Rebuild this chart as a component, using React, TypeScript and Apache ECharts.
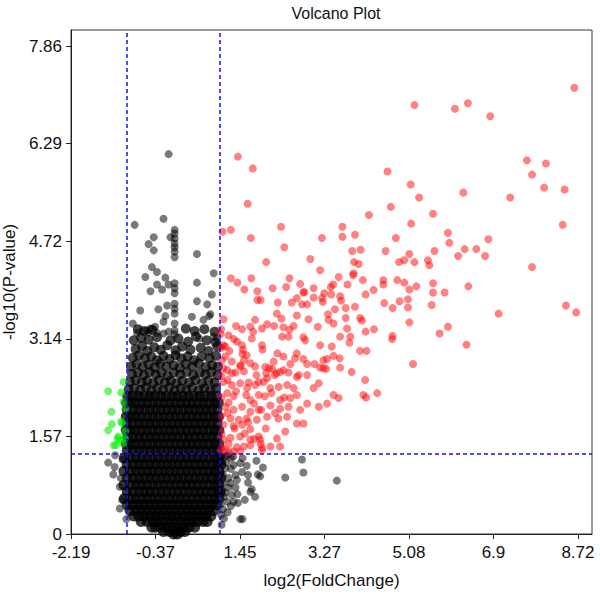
import React, { useEffect, useRef } from "react";
import * as echarts from "echarts";

const xTickValues = [-2.19, -0.372, 1.446, 3.264, 5.082, 6.9, 8.718];
const xTickLabels = ["-2.19", "-0.37", "1.45", "3.27", "5.08", "6.9", "8.72"];
const yTickValues = [0, 1.572, 3.144, 4.716, 6.288, 7.86];
const yTickLabels = ["0", "1.57", "3.14", "4.72", "6.29", "7.86"];
const foldChangeCutoffs = [-1, 1];
const pValueCutoff = 1.30103;

const upRegulated: [number, number][] = [
  [8.64,7.19],[5.2,6.91],[6.07,6.85],[6.35,6.94],[6.83,6.73],[1.4,6.08],[1.72,5.89],[4.62,5.84],[5.12,5.63],[5.3,5.42],
  [1.61,5.32],[4.69,5.27],[4.22,5.14],[5.6,5.16],[6.25,5.5],[7.26,5.42],[7.62,6.02],[8.03,5.97],[7.73,5.79],[7.99,5.58],
  [8.43,5.55],[8.39,4.98],[7.73,4.3],[8.46,3.68],[8.68,3.57],[7.01,3.55],[6.32,3.05],[5.92,3.34],[5.74,3.23],[5.17,2.74],
  [5.09,3.41],[6.36,3.99],[5.85,3.89],[5.6,4.04],[5.6,3.89],[5.57,3.69],[5.24,3.99],[5.09,3.94],[5.06,3.78],[5.06,3.65],
  [4.88,3.75],[4.98,4.05],[4.83,4.09],[4.53,4.09],[4.53,4.02],[4.55,3.72],[4.73,3.64],[4.73,3.19],[4.72,3.14],[4.32,3.93],
  [4.15,3.86],[4.09,4.09],[3.89,4.2],[3.88,4.17],[3.76,4.02],[3.57,4.14],[3.45,4.02],[3.4,3.98],[3.26,3.88],[3.03,3.96],
  [2.83,3.9],[2.74,4.03],[2.51,4.12],[2.44,3.98],[2.15,3.96],[1.82,3.91],[1.54,3.94],[1.39,4.05],[1.25,4.12],[1.69,4.12],
  [2.01,4.38],[2.4,4.62],[2.33,4.95],[1.68,4.77],[1.07,4.87],[1.25,4.9],[2.96,4.43],[3.17,4.25],[3.21,4.77],[3.65,4.95],
  [3.65,4.79],[3.92,4.82],[3.86,4.56],[4.04,4.58],[3.9,4.38],[4.0,4.35],[4.8,4.77],[4.58,4.56],[4.87,4.38],[4.98,4.41],
  [5.09,4.51],[5.2,4.38],[5.13,5.0],[5.63,4.56],[5.49,4.41],[5.52,4.33],[5.92,4.85],[5.95,4.69],[6.14,4.48],[6.28,4.59],
  [6.53,4.59],[6.72,4.48],[6.79,4.75],
  [1.82,3.77],[1.89,3.77],[2.26,3.73],[2.56,3.73],[2.67,3.8],[2.78,3.7],[2.89,3.7],[2.81,3.89],[3.03,3.81],[3.21,3.8],
  [3.23,3.74],[3.41,3.86],[3.6,3.83],[3.62,3.76],[3.49,3.62],[3.34,3.54],[3.72,3.64],[3.92,3.66],
  [2.24,3.55],[2.34,3.47],[2.67,3.52],[2.92,3.46],[3.12,3.34],[3.35,3.45],[3.46,3.39],[3.72,3.48],[3.75,3.31],[4.03,3.48],
  [4.07,3.44],[4.33,3.3],[4.15,3.26],[3.82,3.18],[3.8,3.08],[3.6,3.18],[3.42,3.02],[3.17,3.04],[2.85,3.12],[2.81,3.17],
  [2.6,3.35],[2.51,3.29],[2.38,3.33],[2.18,3.35],[2.03,3.38],[1.92,3.31],[1.77,3.45],[1.67,3.34],[1.49,3.3],[1.73,3.26],
  [1.09,3.46],[1.31,3.14],[1.49,3.04],[1.51,2.97],[1.92,3.04],[1.93,2.97],[2.35,3.18],[2.49,3.18],[2.67,2.91],[2.63,2.83],
  [2.38,2.86],[2.25,2.91],[2.17,2.78],[1.99,2.69],[2.14,2.66],[2.31,2.61],[2.49,2.6],[2.71,2.56],[2.89,2.74],[3.05,2.74],
  [3.24,2.8],[3.3,2.66],[3.46,2.87],[3.59,2.83],[3.6,2.68],[3.85,2.61],[4.03,2.95],[4.17,2.95],[3.17,2.68],[1.67,2.75],
  [1.53,2.8],[1.46,2.7],[1.17,2.64],[1.27,2.59],[1.8,2.56],[2.01,2.59],[2.23,2.59],[1.13,3.02],[1.06,2.8],
  [1.09,2.45],[1.27,2.4],[1.45,2.43],[1.63,2.44],[1.77,2.4],[1.95,2.45],[2.1,2.35],[2.28,2.37],[2.46,2.4],[2.6,2.35],
  [3.03,2.35],[3.14,2.43],[3.46,2.24],[3.57,2.19],[4.1,2.24],[4.16,2.2],[4.4,2.27],[4.14,2.48],
  [1.17,2.27],[1.31,2.22],[1.58,2.24],[1.67,2.16],[1.85,2.24],[1.98,2.22],[2.12,2.27],[2.31,2.16],[2.53,2.19],[2.67,2.24],
  [2.89,2.1],[3.14,2.05],[3.32,2.1],[1.13,2.05],[1.31,2.0],[1.49,2.05],[1.67,1.97],[1.85,2.0],[2.1,2.07],[2.31,2.02],
  [2.49,2.05],[2.74,2.0],[1.24,1.86],[1.42,1.84],[1.59,1.86],[1.81,1.84],[2.03,1.89],[2.27,1.86],[2.46,1.89],[2.67,1.78],
  [2.81,1.78],[1.09,1.76],[1.31,1.74],[1.49,1.76],[1.67,1.69],[1.85,1.57],[1.45,1.57],[1.24,1.55],[1.09,1.52],[1.67,1.52],
  [1.88,1.52],[2.1,1.41],[2.31,1.41],[1.92,1.39],[1.53,1.41],[1.13,1.35],[1.31,1.33],[1.45,1.33],[1.06,1.39],
  [1.13,2.86],[1.27,2.78],[1.09,2.67],[1.45,2.72],[1.59,2.88],[1.77,2.7],[1.53,2.62],[1.09,3.04],[1.03,3.22],[2.07,2.67],
  [2.03,2.51],[2.19,2.56],[2.38,2.64],[2.67,2.53],[2.89,2.56],[3.24,2.67],[2.81,2.82],[2.53,2.74],[3.32,2.82],
  [2.42,1.65],[2.24,1.54],[1.92,1.35],[1.75,1.53],[1.89,1.45],[1.67,1.43],[1.2,1.32],
  [1.04,3.3],[1.2,3.2],[1.36,3.35],[1.05,3.0],[1.22,2.95],[1.38,3.1],[1.04,2.55],[1.18,2.48],[1.35,2.6],[1.05,2.2],
  [1.2,2.12],[1.36,2.3],[1.04,1.9],[1.18,1.95],[1.33,1.7],[1.05,1.62],[1.2,1.45],[1.38,1.4],[1.04,1.36],[1.55,1.62],
  [1.62,1.8],[1.75,2.1],[1.6,2.35],[1.9,2.0],[1.5,2.9],[1.7,3.15],[1.85,2.45],[2.0,1.7],[2.2,1.95],[2.4,2.2]
];

const downRegulated: [number, number][] = [
  [-1.39,2.3],[-1.11,2.28],[-1.06,2.45],[-1.06,2.13],[-1.02,2.02],[-1.32,1.97],[-1.11,1.81],[-1.31,1.77],[-1.39,1.67],
  [-1.02,1.66],[-1.17,1.57],[-1.22,1.43],[-1.13,1.51],[-1.06,1.46],[-1.03,1.54],[-1.09,1.79],[-1.19,1.54],[-1.27,1.43]
];

const notSignificantSparse: [number, number][] = [
  [-0.09,6.12],[-0.82,4.98],[-0.2,5.08],[0.04,4.9],[0.04,4.84],[0.04,4.76],[0.04,4.68],[0.04,4.62],[0.04,4.55],[0.04,4.46],
  [-0.05,4.78],[-0.41,4.78],[-0.52,4.67],[-0.41,4.57],[0.52,4.51],[-0.45,4.3],[-0.59,4.14],[-0.34,4.22],[-0.16,4.13],[-0.34,4.02],
  [-0.48,3.91],[-0.23,3.94],[-0.09,4.02],[0.04,4.04],[0.04,3.96],[0.04,3.88],[0.52,4.05],[0.88,4.2],[0.84,3.86],[-0.7,3.6],
  [-0.31,3.62],[-0.12,3.68],[0.04,3.71],[0.04,3.63],[0.04,3.55],[-0.16,3.51],[-0.2,3.42],[0.52,3.75],[0.74,3.7],[0.81,3.54],
  [0.78,3.51],[0.41,3.5],[0.66,3.45],[-0.86,3.39],[-0.77,3.24],[-0.56,3.28],[-0.48,3.31],[-0.38,3.34],[-0.34,3.24],[-0.52,3.24],
  [-0.09,3.26],[0.04,3.39],[0.04,3.28],[0.04,3.22],[-0.2,3.23],[0.57,3.15],[0.88,3.18],[0.95,3.15],
  [-1.39,1.15],[-1.25,1.08],[-1.28,0.96],[-1.14,0.76],[-1.14,0.41],[-1.09,0.55],[-1.24,1.27],[-1.0,0.24],[-1.12,0.9],[-1.08,1.2],
  [1.8,1.18],[1.94,1.07],[2.78,1.2],[2.81,0.99],[2.42,0.91],[3.53,0.86],[1.88,0.93],[1.83,0.96],[1.62,0.95],[1.62,0.83],
  [1.49,1.0],[1.31,1.11],[1.13,1.06],[1.67,0.68],[1.7,0.72],[1.77,0.6],[1.39,0.64],[1.27,0.63],[1.31,0.52],[1.17,0.52],
  [1.45,0.24],[1.5,0.24],[1.04,0.31],[1.09,0.82],[1.24,0.82],[1.38,0.87],[1.06,1.17],[1.45,1.14],[1.59,1.1],[1.03,0.97],
  [1.13,0.67],[1.03,0.48],[1.12,1.25],[1.25,1.22],[1.05,0.72],
  [1.05,1.25],[1.15,1.15],[1.25,1.05],[1.08,0.95],[1.2,0.9],[1.35,0.95],[1.1,0.6],[1.2,0.75],[1.35,0.75],[1.08,0.4],
  [1.18,0.35],[1.25,0.45],[1.4,0.5],[1.55,0.55],[1.05,0.15],[1.1,0.25],[1.3,1.25],[1.5,1.22],[1.18,1.27]
];

const notSignificantUpper: [number, number][] = [
  [-0.75,3.3],[-0.62,3.27],[-0.44,3.29],[0.28,3.31],[0.47,3.27],[0.68,3.3],[0.9,3.26],
  [-0.84,3.12],[-0.68,3.16],[-0.52,3.13],[-0.34,3.17],[-0.05,3.12],[0.12,3.15],[0.33,3.1],[0.5,3.18],[0.73,3.12],[0.92,3.09],
  [-0.8,2.98],[-0.66,3.03],[-0.55,2.95],[-0.4,3.01],[-0.26,2.97],[-0.12,3.04],[0.06,2.96],[0.2,3.02],[0.38,2.97],[0.6,3.0],[0.77,2.95],[0.96,3.02],
  [-0.86,2.84],[-0.73,2.88],[-0.6,2.83],[-0.46,2.86],[-0.34,2.8],[-0.2,2.87],[-0.07,2.82],[0.06,2.88],[0.18,2.83],[0.32,2.86],[0.46,2.8],[0.62,2.86],[0.79,2.83],[0.93,2.87],
  [-0.9,2.7],[-0.78,2.74],[-0.65,2.69],[-0.52,2.73],[-0.39,2.68],[-0.27,2.75],[-0.14,2.7],[0.02,2.72],[0.15,2.68],[0.28,2.74],[0.42,2.7],[0.56,2.75],[0.71,2.69],[0.85,2.72],[0.97,2.7],
  [-0.88,2.58],[-0.75,2.6],[-0.62,2.56],[-0.5,2.61],[-0.37,2.57],[-0.24,2.6],[-0.11,2.55],[0.02,2.6],[0.16,2.57],[0.3,2.61],[0.44,2.56],[0.58,2.6],[0.7,2.57],[0.83,2.61],[0.96,2.56],
  [-0.92,2.45],[-0.8,2.48],[-0.67,2.44],[-0.55,2.47],[-0.42,2.43],[-0.3,2.48],[-0.17,2.44],[-0.04,2.47],[0.08,2.43],[0.21,2.47],[0.35,2.44],[0.49,2.48],[0.63,2.43],[0.77,2.47],[0.9,2.44],
  [-0.95,2.33],[-0.83,2.35],[-0.7,2.32],[-0.58,2.36],[-0.46,2.31],[-0.33,2.35],[-0.21,2.32],[-0.08,2.36],[0.04,2.31],[0.17,2.35],[0.29,2.32],[0.42,2.36],[0.55,2.31],[0.68,2.35],[0.81,2.32],[0.93,2.35]
];

const notSignificantCoreRows: [number, number[]][] = [
  [2.22, [-0.97, -0.86, -0.74, -0.62, -0.5, -0.38, -0.26, -0.14, -0.02, 0.1, 0.22, 0.34, 0.46, 0.58, 0.7, 0.82, 0.94]],
  [2.11, [-0.99, -0.9, -0.79, -0.67, -0.55, -0.43, -0.31, -0.19, -0.07, 0.05, 0.17, 0.29, 0.41, 0.53, 0.65, 0.77, 0.89, 0.98]],
  [2.0, [-0.98, -0.85, -0.73, -0.61, -0.49, -0.37, -0.25, -0.13, -0.01, 0.11, 0.23, 0.35, 0.47, 0.59, 0.71, 0.83, 0.95]],
  [1.89, [-1.0, -0.9, -0.79, -0.67, -0.55, -0.43, -0.31, -0.19, -0.07, 0.05, 0.17, 0.29, 0.41, 0.53, 0.65, 0.77, 0.89, 0.98]],
  [1.78, [-0.98, -0.85, -0.73, -0.61, -0.49, -0.37, -0.25, -0.13, -0.01, 0.11, 0.23, 0.35, 0.47, 0.59, 0.71, 0.83, 0.95]],
  [1.67, [-1.0, -0.9, -0.79, -0.67, -0.55, -0.43, -0.31, -0.19, -0.07, 0.05, 0.17, 0.29, 0.41, 0.53, 0.65, 0.77, 0.89, 0.99]],
  [1.56, [-0.97, -0.85, -0.73, -0.61, -0.49, -0.37, -0.25, -0.13, -0.01, 0.11, 0.23, 0.35, 0.47, 0.59, 0.71, 0.83, 0.95]],
  [1.45, [-1.0, -0.9, -0.79, -0.67, -0.55, -0.43, -0.31, -0.19, -0.07, 0.05, 0.17, 0.29, 0.41, 0.53, 0.65, 0.77, 0.89, 0.99]],
  [1.34, [-0.98, -0.85, -0.73, -0.61, -0.49, -0.37, -0.25, -0.13, -0.01, 0.11, 0.23, 0.35, 0.47, 0.59, 0.71, 0.83, 0.95]],
  [1.23, [-1.04, -0.91, -0.79, -0.67, -0.55, -0.43, -0.31, -0.19, -0.07, 0.05, 0.17, 0.29, 0.41, 0.53, 0.65, 0.77, 0.89, 0.99]],
  [1.12, [-0.98, -0.85, -0.73, -0.61, -0.49, -0.37, -0.25, -0.13, -0.01, 0.11, 0.23, 0.35, 0.47, 0.59, 0.71, 0.83, 0.95, 1.03]],
  [1.01, [-1.05, -0.91, -0.79, -0.67, -0.55, -0.43, -0.31, -0.19, -0.07, 0.05, 0.17, 0.29, 0.41, 0.53, 0.65, 0.77, 0.89, 0.99]],
  [0.9, [-0.98, -0.85, -0.73, -0.61, -0.49, -0.37, -0.25, -0.13, -0.01, 0.11, 0.23, 0.35, 0.47, 0.59, 0.71, 0.83, 0.95, 1.03]],
  [0.79, [-1.05, -0.91, -0.79, -0.67, -0.55, -0.43, -0.31, -0.19, -0.07, 0.05, 0.17, 0.29, 0.41, 0.53, 0.65, 0.77, 0.89, 0.99]],
  [0.68, [-0.98, -0.85, -0.73, -0.61, -0.49, -0.37, -0.25, -0.13, -0.01, 0.11, 0.23, 0.35, 0.47, 0.59, 0.71, 0.83, 0.95, 1.02]],
  [0.57, [-1.04, -0.91, -0.79, -0.67, -0.55, -0.43, -0.31, -0.19, -0.07, 0.05, 0.17, 0.29, 0.41, 0.53, 0.65, 0.77, 0.89, 0.99]],
  [0.47, [-0.98, -0.85, -0.73, -0.61, -0.49, -0.37, -0.25, -0.13, -0.01, 0.11, 0.23, 0.35, 0.47, 0.59, 0.71, 0.83, 0.94]],
  [0.38, [-0.92, -0.79, -0.67, -0.55, -0.43, -0.31, -0.19, -0.07, 0.05, 0.17, 0.29, 0.41, 0.53, 0.65, 0.77, 0.88]],
  [0.29, [-0.84, -0.73, -0.61, -0.49, -0.37, -0.25, -0.13, -0.01, 0.11, 0.23, 0.35, 0.47, 0.59, 0.71, 0.82]],
  [0.2, [-0.68, -0.55, -0.43, -0.31, -0.19, -0.07, 0.05, 0.17, 0.29, 0.41, 0.53, 0.65, 0.74]],
  [0.11, [-0.45, -0.37, -0.25, -0.13, -0.01, 0.11, 0.23, 0.35, 0.47]],
  [0.04, [-0.2, -0.07, 0.05, 0.17, 0.26]],
  [0.0, [0.02, 0.1]]
];

function rowsToPoints(rows: [number, number[]][]): [number, number][] {
  return rows.flatMap(([y, xs]) => xs.map((x) => [x, y] as [number, number]));
}

const FONT = "'Liberation Sans', Arial, sans-serif";

function lookupLabel(values: number[], labels: string[], v: number) {
  const i = values.findIndex((t) => Math.abs(t - v) < 1e-6);
  return i >= 0 ? labels[i] : "";
}

export default function App() {
  const ref = useRef<HTMLDivElement>(null);
  useEffect(() => {
    document.body.style.margin = "0";
    const chart = echarts.init(ref.current!, null, { renderer: "svg" });
    const dot = 8;
    chart.setOption({
      animation: false,
      backgroundColor: "#ffffff",
      title: {
        text: "Volcano Plot",
        left: 331,
        textAlign: "center",
        top: 0,
        textStyle: { fontFamily: FONT, fontSize: 16, fontWeight: "normal", color: "#111" },
      },
      grid: {
        left: 71,
        right: 8,
        top: 30,
        bottom: 66,
        outerBoundsMode: "none",
        containLabel: false,
        show: true,
        borderColor: "#333",
        borderWidth: 1,
        backgroundColor: "transparent",
      },
      xAxis: {
        type: "value",
        min: -2.19,
        max: 9.02,
        name: "log2(FoldChange)",
        nameLocation: "middle",
        nameGap: 38,
        nameTextStyle: { fontFamily: FONT, fontSize: 17, color: "#111" },
        axisLine: { show: true, onZero: false, lineStyle: { color: "#222", width: 1 } },
        axisTick: { show: true, length: 5, customValues: xTickValues, lineStyle: { color: "#222" } },
        axisLabel: {
          customValues: xTickValues,
          margin: 10,
          fontFamily: FONT,
          fontSize: 17,
          color: "#111",
          formatter: (v: number) => lookupLabel(xTickValues, xTickLabels, v),
        },
        splitLine: { show: false },
      },
      yAxis: {
        type: "value",
        min: 0,
        max: 8.12,
        name: "-log10(P-value)",
        nameLocation: "middle",
        nameGap: 44,
        nameTextStyle: { fontFamily: FONT, fontSize: 17, color: "#111" },
        axisLine: { show: true, onZero: false, lineStyle: { color: "#222", width: 1 } },
        axisTick: { show: true, length: 5, customValues: yTickValues, lineStyle: { color: "#222" } },
        axisLabel: {
          customValues: yTickValues,
          margin: 9,
          fontFamily: FONT,
          fontSize: 17,
          color: "#111",
          formatter: (v: number) => lookupLabel(yTickValues, yTickLabels, v),
        },
        splitLine: { show: false },
      },
      series: [
        {
          name: "not significant core",
          type: "scatter",
          symbolSize: 11,
          data: rowsToPoints(notSignificantCoreRows),
          itemStyle: { color: "rgba(0,0,0,0.95)" },
          silent: true,
        },
        {
          name: "not significant upper",
          type: "scatter",
          symbolSize: 10,
          data: notSignificantUpper,
          itemStyle: { color: "rgba(0,0,0,0.9)" },
          silent: true,
        },
        {
          name: "not significant",
          type: "scatter",
          symbolSize: dot,
          data: notSignificantSparse,
          itemStyle: { color: "rgba(0,0,0,0.65)" },
          silent: true,
        },
        {
          name: "up",
          type: "scatter",
          symbolSize: dot,
          data: upRegulated,
          itemStyle: { color: "rgba(255,0,0,0.62)" },
          silent: true,
        },
        {
          name: "down",
          type: "scatter",
          symbolSize: dot,
          data: downRegulated,
          itemStyle: { color: "rgba(0,235,0,0.7)" },
          silent: true,
        },
        {
          name: "cutoffs",
          type: "scatter",
          data: [],
          z: 10,
          markLine: {
            silent: true,
            symbol: ["none", "none"],
            label: { show: false },
            lineStyle: { color: "#1010ff", width: 1.5, type: [4, 3] },
            data: [
              { xAxis: foldChangeCutoffs[0] },
              { xAxis: foldChangeCutoffs[1] },
              { yAxis: pValueCutoff },
            ],
          },
        },
      ],
    });
    return () => chart.dispose();
  }, []);
  return <div ref={ref} style={{ width: 600, height: 600 }} />;
}
